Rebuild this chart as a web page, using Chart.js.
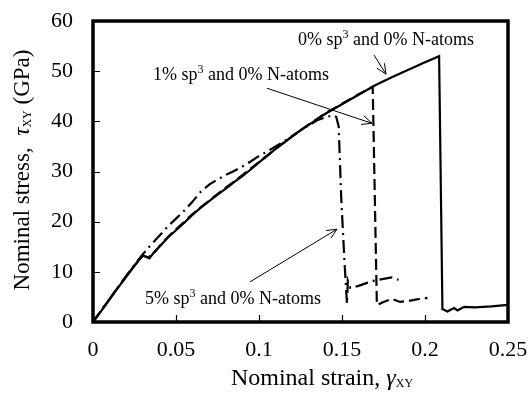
<!DOCTYPE html>
<html>
<head>
<meta charset="utf-8">
<script src="https://cdn.jsdelivr.net/npm/chart.js@4"></script>
<style>
  html, body { margin: 0; padding: 0; background: #fff; }
  #chart { display: block; }
</style>
</head>
<body>
<canvas id="chart" width="531" height="396"></canvas>
<script>
// ------------------------------------------------------------------
// Data (strain, stress in GPa)
// ------------------------------------------------------------------

const xTickLabels = ["0", "0.05", "0.1", "0.15", "0.2", "0.25"];
const yTickLabels = ["0", "10", "20", "30", "40", "50", "60"];

// 0% sp3 and 0% N-atoms (solid)
const strain0 = [0, 0.005, 0.01, 0.015, 0.02, 0.025, 0.03, 0.032, 0.034, 0.037, 0.04, 0.045,
  0.05, 0.055, 0.06, 0.065, 0.07, 0.075, 0.08, 0.085, 0.09, 0.095, 0.1, 0.105, 0.11, 0.115,
  0.12, 0.125, 0.13, 0.14, 0.15, 0.16, 0.17, 0.18, 0.19, 0.2, 0.2085, 0.2105, 0.2135, 0.2175,
  0.2195, 0.2235, 0.23, 0.24, 0.25];
const stress0 = [0, 2.2, 4.5, 6.8, 9.0, 11.2, 13.3, 13.0, 12.7, 14.0, 15.0, 16.8,
  18.3, 19.8, 21.4, 22.8, 24.1, 25.4, 26.6, 27.9, 29.1, 30.4, 31.8, 33.1, 34.5, 35.7,
  37.0, 38.2, 39.3, 41.5, 43.4, 45.3, 47.2, 48.8, 50.3, 51.8, 53.0, 2.6, 2.1, 2.8,
  2.3, 3.0, 2.9, 3.1, 3.4];

// 1% sp3 and 0% N-atoms (dashed)
const strain1 = [0, 0.005, 0.01, 0.015, 0.02, 0.025, 0.03, 0.033, 0.036, 0.04, 0.045,
  0.05, 0.055, 0.06, 0.065, 0.07, 0.075, 0.08, 0.085, 0.09, 0.095, 0.1, 0.105, 0.11, 0.115,
  0.12, 0.125, 0.13, 0.14, 0.15, 0.16, 0.1685, 0.171, 0.175, 0.18, 0.185, 0.19, 0.195, 0.2015];
const stress1 = [0, 2.3, 4.6, 6.9, 9.1, 11.3, 13.2, 12.9, 13.4, 15.1, 16.9,
  18.5, 20.0, 21.5, 22.9, 24.2, 25.5, 26.8, 28.0, 29.3, 30.6, 31.9, 33.2, 34.5, 35.8,
  37.0, 38.2, 39.4, 41.6, 43.5, 45.4, 46.9, 3.4, 4.0, 4.6, 4.0, 4.2, 4.5, 4.8];

// 5% sp3 and 0% N-atoms (dash-dot)
const strain5 = [0, 0.005, 0.01, 0.015, 0.02, 0.025, 0.03, 0.035, 0.04, 0.045, 0.05,
  0.055, 0.06, 0.065, 0.07, 0.075, 0.08, 0.085, 0.09, 0.095, 0.1, 0.105, 0.11, 0.115, 0.12,
  0.125, 0.13, 0.135, 0.14, 0.1445, 0.1465, 0.148, 0.1495, 0.1515, 0.153, 0.1535, 0.155,
  0.16, 0.165, 0.17, 0.175, 0.18, 0.184];
const stress5 = [0, 2.3, 4.6, 6.9, 9.2, 11.4, 13.5, 15.4, 17.2, 19.0, 20.6,
  22.2, 24.0, 26.0, 27.4, 28.4, 29.3, 30.1, 31.0, 32.0, 33.1, 34.0, 35.0, 36.0, 37.1,
  38.2, 39.2, 40.2, 40.8, 41.2, 40.9, 39.0, 25.0, 12.0, 3.6, 8.2, 6.8,
  7.2, 7.8, 8.3, 8.6, 8.9, 8.4];

// Annotation anchors in data units: label start, arrow tail, arrow head
const notes = [
  { pre: "0% sp", post: " and 0% N-atoms", at: [0.1235, 56.2], from: [0.1693, 53.2], to: [0.1765, 49.4] },
  { pre: "1% sp", post: " and 0% N-atoms", at: [0.0361, 49.2], from: [0.1048, 46.6], to: [0.1681, 39.6] },
  { pre: "5% sp", post: " and 0% N-atoms", at: [0.0313, 4.6], from: [0.0946, 8.0], to: [0.1470, 18.5] },
];

const SERIF = "'Liberation Serif', 'DejaVu Serif', serif";

function pairs(xs, ys) {
  return xs.map((x, i) => ({ x, y: ys[i] }));
}

function lineSet(label, xs, ys, dash) {
  return {
    label,
    data: pairs(xs, ys),
    showLine: true,
    borderColor: "#000",
    borderWidth: 2.2,
    borderDash: dash,
    pointRadius: 0,
    tension: 0,
    fill: false,
  };
}

// ------------------------------------------------------------------
// Frame, inward ticks, axis titles and the arrow labels
// ------------------------------------------------------------------

function drawArrow(ctx, x1, y1, x2, y2) {
  ctx.beginPath();
  ctx.moveTo(x1, y1);
  ctx.lineTo(x2, y2);
  const a = Math.atan2(y2 - y1, x2 - x1);
  const h = 11, w = 0.42;
  ctx.moveTo(x2 - h * Math.cos(a - w), y2 - h * Math.sin(a - w));
  ctx.lineTo(x2, y2);
  ctx.lineTo(x2 - h * Math.cos(a + w), y2 - h * Math.sin(a + w));
  ctx.stroke();
}

// Runs of [text, font, dy] written along the baseline, returns width
function runs(ctx, parts, x, y, measureOnly) {
  let w = 0;
  parts.forEach(([t, f, dy]) => {
    ctx.font = f;
    if (!measureOnly) ctx.fillText(t, x + w, y + dy);
    w += ctx.measureText(t).width;
  });
  return w;
}

const decor = {
  id: "decor",
  afterDraw(chart) {
    const { ctx, chartArea: a, scales: { x, y } } = chart;
    ctx.save();
    ctx.strokeStyle = "#000";
    ctx.fillStyle = "#000";

    // inward ticks
    ctx.lineWidth = 1.2;
    ctx.beginPath();
    for (let v = 10; v < 60; v += 10) {
      const py = Math.round(y.getPixelForValue(v)) + 0.5;
      ctx.moveTo(a.left, py); ctx.lineTo(a.left + 7, py);
    }
    for (let i = 1; i < 5; i++) {
      const px = Math.round(x.getPixelForValue(i * 0.05)) + 0.5;
      ctx.moveTo(px, a.bottom); ctx.lineTo(px, a.bottom - 7);
    }
    ctx.stroke();

    // heavy frame
    ctx.lineWidth = 3.5;
    ctx.strokeRect(a.left, a.top, a.right - a.left, a.bottom - a.top);

    // annotations
    ctx.lineWidth = 1;
    ctx.textBaseline = "middle";
    ctx.textAlign = "left";
    notes.forEach(n => {
      const tx = x.getPixelForValue(n.at[0]);
      const ty = y.getPixelForValue(n.at[1]);
      runs(ctx, [
        [n.pre, `18px ${SERIF}`, 0],
        ["3", `12px ${SERIF}`, -5],
        [n.post, `18px ${SERIF}`, 0],
      ], tx, ty);
      drawArrow(ctx,
        x.getPixelForValue(n.from[0]), y.getPixelForValue(n.from[1]),
        x.getPixelForValue(n.to[0]), y.getPixelForValue(n.to[1]));
    });

    // x title
    ctx.textBaseline = "alphabetic";
    const xParts = [
      ["Nominal strain, ", `24px ${SERIF}`, 0],
      ["\u03B3", `italic 24px ${SERIF}`, 0],
      ["XY", `12px ${SERIF}`, 2],
    ];
    const xw = runs(ctx, xParts, 0, 0, true);
    runs(ctx, xParts, 322 - xw / 2, 385);

    // y title (rotated)
    const yParts = [
      ["Nominal stress,  ", `23px ${SERIF}`, 0],
      ["\u03C4", `italic 23px ${SERIF}`, 0],
      ["XY", `12px ${SERIF}`, 2],
      [" (GPa)", `23px ${SERIF}`, 0],
    ];
    const yw = runs(ctx, yParts, 0, 0, true);
    ctx.translate(29, 170);
    ctx.rotate(-Math.PI / 2);
    runs(ctx, yParts, -yw / 2, 0);

    ctx.restore();
  },
};

// ------------------------------------------------------------------
// Chart
// ------------------------------------------------------------------

new Chart(document.getElementById("chart"), {
  type: "scatter",
  data: {
    datasets: [
      lineSet("0% sp3 and 0% N-atoms", strain0, stress0, []),
      lineSet("1% sp3 and 0% N-atoms", strain1, stress1, [11, 5]),
      lineSet("5% sp3 and 0% N-atoms", strain5, stress5, [13, 5, 2, 5]),
    ],
  },
  options: {
    responsive: false,
    devicePixelRatio: 1,
    animation: false,
    layout: { padding: { top: 21, right: 23, left: 0, bottom: 0 } },
    plugins: {
      legend: { display: false },
      tooltip: { enabled: false },
    },
    scales: {
      x: {
        type: "linear",
        min: 0,
        max: 0.25,
        afterFit: s => {
          s.height = 74;
          s.paddingLeft = 0;
          s.paddingRight = 0;
        },
        afterBuildTicks: s => { s.ticks = xTickLabels.map(t => ({ value: Number(t) })); },
        ticks: {
          callback: (v, i) => xTickLabels[i],
          font: { family: SERIF, size: 22 },
          color: "#000",
          padding: 15,
          maxRotation: 0,
        },
        grid: { display: false, drawTicks: false },
        border: { display: false },
      },
      y: {
        type: "linear",
        min: 0,
        max: 60,
        afterFit: s => {
          s.width = 93;
          s.paddingTop = 0;
          s.paddingBottom = 0;
        },
        afterBuildTicks: s => { s.ticks = yTickLabels.map(t => ({ value: Number(t) })); },
        ticks: {
          callback: (v, i) => yTickLabels[i],
          font: { family: SERIF, size: 22 },
          color: "#000",
          padding: 20,
        },
        grid: { display: false, drawTicks: false },
        border: { display: false },
      },
    },
  },
  plugins: [decor],
});
</script>
</body>
</html>
